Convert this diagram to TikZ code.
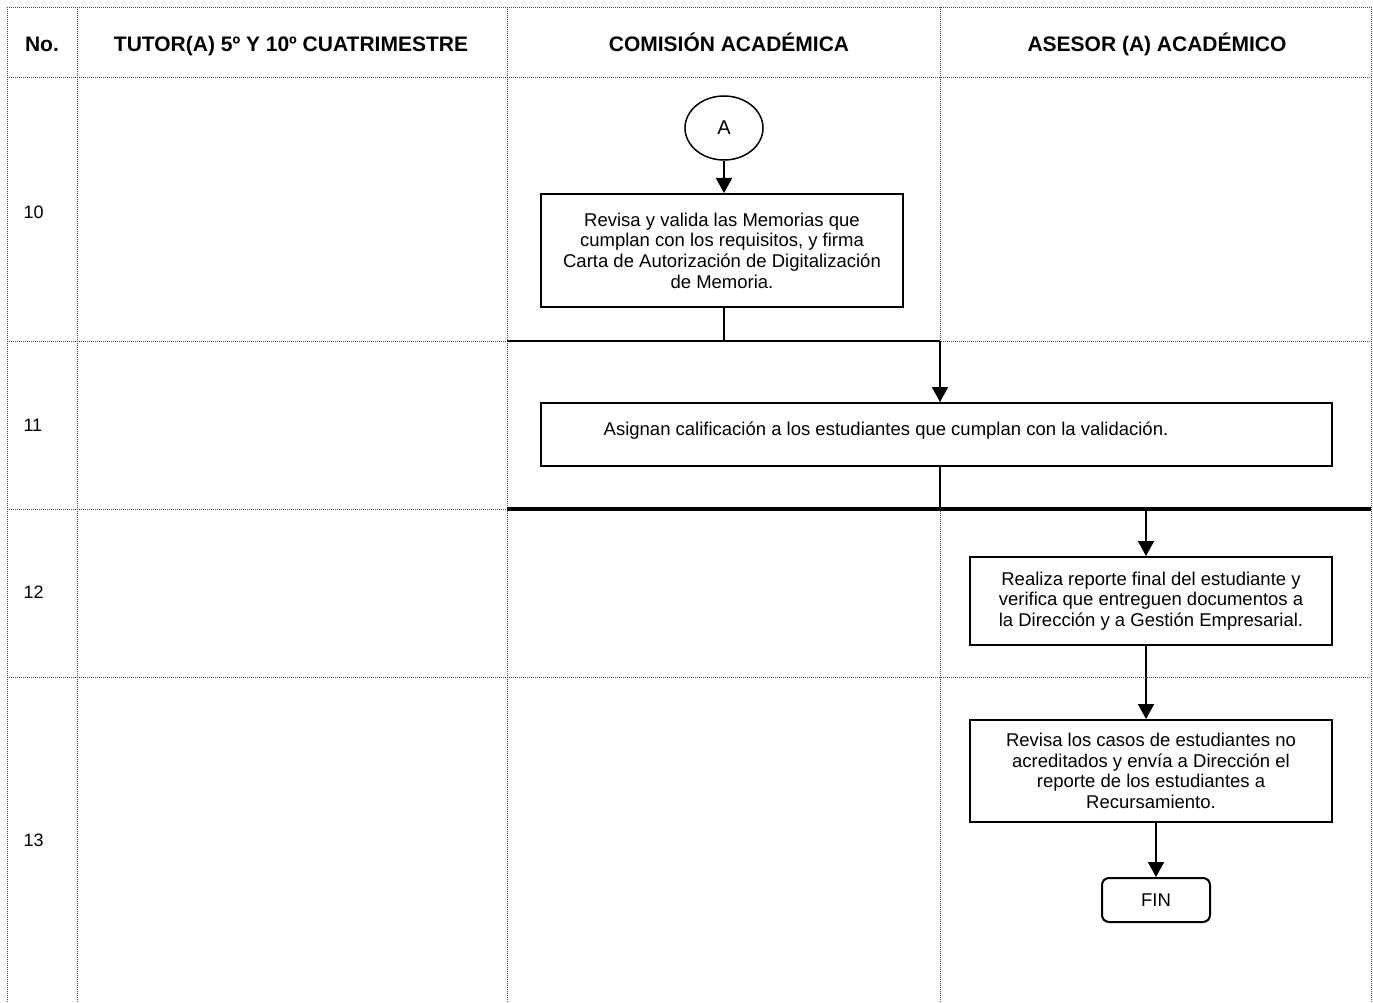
\documentclass[tikz,border=0pt]{standalone}
\usepackage{fontspec}
\setmainfont{Liberation Sans}
\usetikzlibrary{arrows.meta,shapes.geometric}
\tikzset{
  grid/.style={line width=0.9pt, black!70, dash pattern=on 1pt off 1pt},
  conn/.style={line width=2pt, black},
  thick conn/.style={line width=3.2pt, black},
  arr/.style={conn, -{Triangle[length=15pt,width=16pt]}},
  proc/.style={draw, fill=white, line width=2pt, rectangle, align=center, inner sep=0pt,
    font=\fontsize{18.5}{20.7}\selectfont},
  hdr/.style={anchor=base, font=\fontsize{21}{25}\selectfont\bfseries},
  num/.style={anchor=west, font=\fontsize{18}{21}\selectfont},
}
\begin{document}
\begin{tikzpicture}[x=1pt, y=-1pt]
\useasboundingbox (0,0) rectangle (1373,1003);
% grid
\foreach \xx in {7,77,507,940,1371} \draw[grid] (\xx,7) -- (\xx,1003);
\foreach \yy in {7,77,341,509,677} \draw[grid] (7,\yy) -- (1371,\yy);
% headers
\node[hdr] (h0) at (42,52) {No.};
\node[hdr] (h1) at (291,52) {TUTOR(A) 5º Y 10º CUATRIMESTRE};
\node[hdr] (h2) at (729,52) {COMISIÓN ACADÉMICA};
\node[hdr] (h3) at (1157,52) {ASESOR (A) ACADÉMICO};
% row numbers
\node[num] (r10) at (20,212) {10};
\node[num] (r11) at (20,425) {11};
\node[num] (r12) at (20,592) {12};
\node[num] (r13) at (20,840) {13};
% nodes
\node[draw, fill=white, ellipse, line width=1.5pt, minimum width=78pt, minimum height=64pt,
  font=\fontsize{20}{24}\selectfont] (cA) at (724,128) {A};
\node[proc, minimum width=362pt, minimum height=113pt] (b1) at (722,250.5)
  {Revisa y valida las Memorias que\\cumplan con los requisitos, y firma\\Carta de Autorización de Digitalización\\de Memoria.};
\node[proc, minimum width=791pt, minimum height=63pt] (b2) at (936.5,434.5) {};
\node[font=\fontsize{18.5}{20.7}\selectfont] (t2) at (886,431)
  {Asignan calificación a los estudiantes que cumplan con la validación.};
\node[proc, minimum width=362pt, minimum height=88pt] (b3) at (1151,601)
  {Realiza reporte final del estudiante y\\verifica que entreguen documentos a\\la Dirección y a Gestión Empresarial.};
\node[proc, minimum width=362pt, minimum height=102pt] (b4) at (1151,771)
  {Revisa los casos de estudiantes no\\acreditados y envía a Dirección el\\reporte de los estudiantes a\\Recursamiento.};
\node[draw, fill=white, line width=2pt, rounded corners=7pt, minimum width=108pt, minimum height=44pt,
  inner sep=0pt, font=\fontsize{18.5}{22}\selectfont] (fin) at (1156,900) {FIN};
% junction coordinates
\coordinate (j0) at (507,341);
\coordinate (j1) at (940,341);
\coordinate (k0) at (507,509);
\coordinate (k1) at (1371,509);
\coordinate (a3) at (1146,509);
% connectors
\draw[arr] (cA) -- (cA |- b1.north);
\draw[conn] (b1.south -| cA) -- (cA |- j0);
\draw[conn] (j0) -- (j1);
\draw[arr] (j1) -- (j1 |- b2.north);
\draw[conn] (j1 |- b2.south) -- (j1 |- k0);
\draw[thick conn] (k0) -- (k1);
\draw[arr] (a3) -- (a3 |- b3.north);
\draw[arr] (a3 |- b3.south) -- (a3 |- b4.north);
\draw[arr] (fin.north |- b4.south) -- (fin.north);
\end{tikzpicture}
\end{document}
